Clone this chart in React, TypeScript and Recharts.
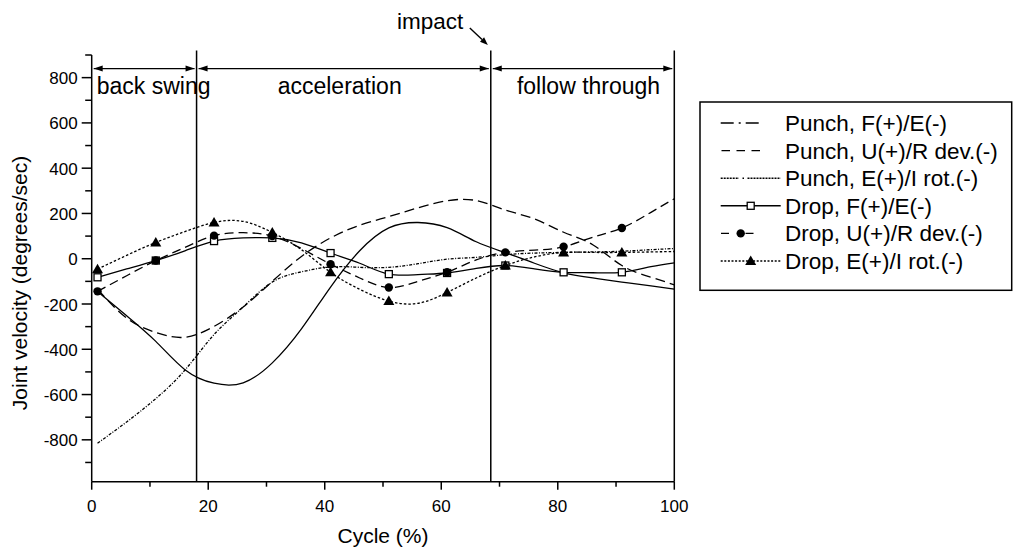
import { LineChart, Line, XAxis, YAxis, ReferenceLine } from "recharts";

const FONT = '"Liberation Sans", Arial, Helvetica, sans-serif';

// cycle (%) sample points; markers sit on every 10% starting at 1
const cycle = [1, 6, 11, 16, 21, 26, 31, 36, 41, 46, 51, 56, 61, 66, 71, 76, 81, 86, 91, 96, 100];
const markerCycles = [1, 11, 21, 31, 41, 51, 61, 71, 81, 91];

// joint velocity (degrees/sec)
const punchFE = [-145, -252, -365, -490, -550, -548, -460, -310, -125, 35, 136, 160, 137, 75, 27, -20, -62, -85, -103, -120, -134];
const punchUR = [-135, -262, -326, -347, -299, -213, -100, 10, 92, 148, 186, 225, 256, 257, 215, 176, 117, 62, -30, -82, -115];
const punchEI = [-815, -721, -618, -492, -335, -213, -103, -58, -36, -38, -38, -22, -2, 6, 18, 25, 28, 30, 33, 40, 45];
const dropFE = [-82, -45, -8, 35, 78, 92, 92, 70, 25, -20, -68, -70, -63, -43, -30, -45, -60, -62, -60, -35, -18];
const dropUR = [-144, -75, -8, 50, 102, 115, 100, 45, -24, -85, -127, -100, -60, -5, 28, 38, 53, 95, 136, 205, 265];
const dropEI = [-46, 15, 72, 120, 160, 165, 116, 40, -60, -135, -187, -197, -149, -85, -30, 8, 28, 28, 28, 30, 32];

const yTicks = [-900, -800, -700, -600, -500, -400, -300, -200, -100, 0, 100, 200, 300, 400, 500, 600, 700, 800, 900];
const yLabels = [-800, -600, -400, -200, 0, 200, 400, 600, 800];
const xTicks = [0, 10, 20, 30, 40, 50, 60, 70, 80, 90, 100];
const xLabels = [0, 20, 40, 60, 80, 100];

const phaseBounds = [0, 18, 68.5, 100];
const phaseNames = ["back swing", "acceleration", "follow through"];

const rows = cycle.map((x, i) => ({
  x,
  punchFE: punchFE[i],
  punchUR: punchUR[i],
  punchEI: punchEI[i],
  dropFE: dropFE[i],
  dropUR: dropUR[i],
  dropEI: dropEI[i],
}));

type MarkerKind = "square" | "circle" | "triangle";
type SeriesDef = { key: string; name: string; dash?: string; marker?: MarkerKind };

const series: SeriesDef[] = [
  { key: "punchFE", name: "Punch, F(+)/E(-)" },
  { key: "punchUR", name: "Punch, U(+)/R dev.(-)", dash: "10 5" },
  { key: "punchEI", name: "Punch, E(+)/I rot.(-)", dash: "3 1.5 1 1.5" },
  { key: "dropFE", name: "Drop, F(+)/E(-)", marker: "square" },
  { key: "dropUR", name: "Drop, U(+)/R dev.(-)", dash: "9 5", marker: "circle" },
  { key: "dropEI", name: "Drop, E(+)/I rot.(-)", dash: "2.5 2", marker: "triangle" },
];

function Marker({ kind, cx, cy }: { kind: MarkerKind; cx: number; cy: number }) {
  if (kind === "square")
    return <rect x={cx - 3.5} y={cy - 3.5} width={7} height={7} fill="#fff" stroke="#000" strokeWidth={1.3} />;
  if (kind === "circle") return <circle cx={cx} cy={cy} r={4.2} fill="#000" />;
  return <polygon points={`${cx},${cy - 5.5} ${cx + 5.5},${cy + 4} ${cx - 5.5},${cy + 4}`} fill="#000" />;
}

const YTick = (p: any) => {
  const { x, y, payload } = p;
  const major = yLabels.includes(payload.value);
  const len = major ? 10 : 6.5;
  return (
    <g>
      <line x1={x - len} y1={y} x2={x} y2={y} stroke="#000" strokeWidth={1.5} />
      {major && (
        <text x={x - 14} y={y} dy={6.5} textAnchor="end" fontSize={17} fontFamily={FONT} fill="#000">
          {payload.value}
        </text>
      )}
    </g>
  );
};

const XTick = (p: any) => {
  const { x, y, payload } = p;
  const major = xLabels.includes(payload.value);
  const len = major ? 8 : 5;
  return (
    <g>
      <line x1={x} y1={y} x2={x} y2={y + len} stroke="#000" strokeWidth={1.5} />
      {major && (
        <text x={x} y={y + 30} textAnchor="middle" fontSize={17} fontFamily={FONT} fill="#000">
          {payload.value}
        </text>
      )}
    </g>
  );
};

// double headed arrow over each phase, with its name below
const phaseShape = (i: number) => (p: any) => {
  const { x1, y1, x2 } = p;
  const a = x1 + 2;
  const b = x2 - 2;
  const tx = i === 0 ? a + 3 : (a + b) / 2 + (i === 1 ? -4 : 6);
  return (
    <g>
      <line x1={a} y1={y1} x2={b} y2={y1} stroke="#000" strokeWidth={1.4} />
      <polygon points={`${a},${y1} ${a + 9},${y1 - 3} ${a + 9},${y1 + 3}`} fill="#000" />
      <polygon points={`${b},${y1} ${b - 9},${y1 - 3} ${b - 9},${y1 + 3}`} fill="#000" />
      <text x={tx} y={y1 + 25} textAnchor={i === 0 ? "start" : "middle"} fontSize={23} fontFamily={FONT} fill="#000">
        {phaseNames[i]}
      </text>
    </g>
  );
};

const impactShape = (p: any) => {
  const { x1, y1, x2, y2 } = p;
  const ang = Math.atan2(y2 - y1, x2 - x1);
  const L = 8;
  const W = 3;
  const bx = x2 - L * Math.cos(ang);
  const by = y2 - L * Math.sin(ang);
  const nx = -Math.sin(ang) * W;
  const ny = Math.cos(ang) * W;
  return (
    <g>
      <line x1={x1} y1={y1} x2={bx} y2={by} stroke="#000" strokeWidth={1.4} />
      <polygon points={`${x2},${y2} ${bx + nx},${by + ny} ${bx - nx},${by - ny}`} fill="#000" />
      <text x={x1 - 6.5} y={y1 + 0.5} textAnchor="end" fontSize={22.5} fontFamily={FONT} fill="#000">
        impact
      </text>
    </g>
  );
};

function LegendSample({ i, y }: { i: number; y: number }) {
  const s = { stroke: "#000", strokeWidth: 1.4 };
  switch (i) {
    case 0:
      return <line x1={21.7} y1={y} x2={61} y2={y} {...s} strokeDasharray="13 5 2 5" />;
    case 1:
      return <line x1={22.5} y1={y} x2={62} y2={y} {...s} strokeDasharray="8.5 6.5" />;
    case 2:
      return (
        <g>
          <line x1={21.7} y1={y} x2={40} y2={y} {...s} strokeDasharray="2 1" />
          <line x1={43.5} y1={y} x2={45} y2={y} {...s} />
          <line x1={48.5} y1={y} x2={81.7} y2={y} {...s} strokeDasharray="2 1" />
        </g>
      );
    case 3:
      return (
        <g>
          <line x1={21.7} y1={y} x2={81.7} y2={y} {...s} />
          <Marker kind="square" cx={51.7} cy={y} />
        </g>
      );
    case 4:
      return (
        <g>
          <line x1={22} y1={y} x2={62} y2={y} {...s} strokeDasharray="8 9.5 0 7 8" />
          <Marker kind="circle" cx={41.7} cy={y} />
        </g>
      );
    default:
      return (
        <g>
          <line x1={21.7} y1={y} x2={81.7} y2={y} {...s} strokeDasharray="2 1.6" />
          <Marker kind="triangle" cx={51.7} cy={y} />
        </g>
      );
  }
}

function LegendBox() {
  return (
    <svg
      width={314}
      height={191}
      style={{ position: "absolute", left: 699, top: 100.7, overflow: "visible" }}
    >
      <rect x={1} y={1} width={311.7} height={188.3} fill="#fff" stroke="#000" strokeWidth={1.5} />
      {series.map((s, i) => {
        const y = 22 + i * 27.6;
        return (
          <g key={s.key}>
            <LegendSample i={i} y={y} />
            <text x={86} y={y + 8} fontSize={22.5} fontFamily={FONT} fill="#000">
              {s.name}
            </text>
          </g>
        );
      })}
    </svg>
  );
}

export default function App() {
  return (
    <div style={{ position: "absolute", left: 0, top: 0, width: 1015, height: 550, background: "#fff" }}>
      <LineChart
        width={1015}
        height={550}
        data={rows}
        margin={{ top: 55, right: 340.7, bottom: 38.3, left: 31.7 }}
      >
        <XAxis
          dataKey="x"
          type="number"
          domain={[0, 100]}
          ticks={xTicks}
          interval={0}
          allowDataOverflow
          height={30}
          tickSize={0}
          tickMargin={0}
          tickLine={false}
          tick={<XTick />}
          axisLine={{ stroke: "#000", strokeWidth: 1.5 }}
          label={{
            content: () => (
              <text x={383} y={543} textAnchor="middle" fontSize={21} fontFamily={FONT} fill="#000">
                Cycle (%)
              </text>
            ),
          }}
        />
        <YAxis
          type="number"
          domain={[-985, 900]}
          ticks={yTicks}
          interval={0}
          allowDataOverflow
          width={60}
          tickSize={0}
          tickMargin={0}
          tickLine={false}
          tick={<YTick />}
          axisLine={{ stroke: "#000", strokeWidth: 1.5 }}
          label={{
            content: () => (
              <text
                x={27}
                y={283}
                transform="rotate(-90 27 283)"
                textAnchor="middle"
                fontSize={21}
                fontFamily={FONT}
                fill="#000"
              >
                Joint velocity (degrees/sec)
              </text>
            ),
          }}
        />

        {phaseBounds.slice(1).map((b) => (
          <ReferenceLine
            key={`v-${b}`}
            segment={[
              { x: b, y: -985 },
              { x: b, y: 920 },
            ]}
            stroke="#000"
            strokeWidth={1.5}
            ifOverflow="visible"
          />
        ))}
        {phaseNames.map((n, i) => (
          <ReferenceLine
            key={n}
            segment={[
              { x: phaseBounds[i], y: 840 },
              { x: phaseBounds[i + 1], y: 840 },
            ]}
            ifOverflow="visible"
            shape={phaseShape(i)}
          />
        ))}
        <ReferenceLine
          segment={[
            { x: 64.9, y: 1019 },
            { x: 68, y: 944 },
          ]}
          ifOverflow="visible"
          shape={impactShape}
        />

        {series.map((s) => (
          <Line
            key={s.key}
            dataKey={s.key}
            name={s.name}
            type="natural"
            stroke="#000"
            strokeWidth={1.3}
            strokeDasharray={s.dash}
            isAnimationActive={false}
            activeDot={false}
            dot={
              s.marker
                ? (p: any) =>
                    markerCycles.includes(p.payload.x) ? (
                      <Marker key={`${s.key}-${p.index}`} kind={s.marker as MarkerKind} cx={p.cx} cy={p.cy} />
                    ) : (
                      <g key={`${s.key}-${p.index}`} />
                    )
                : false
            }
          />
        ))}
      </LineChart>
      <LegendBox />
    </div>
  );
}
